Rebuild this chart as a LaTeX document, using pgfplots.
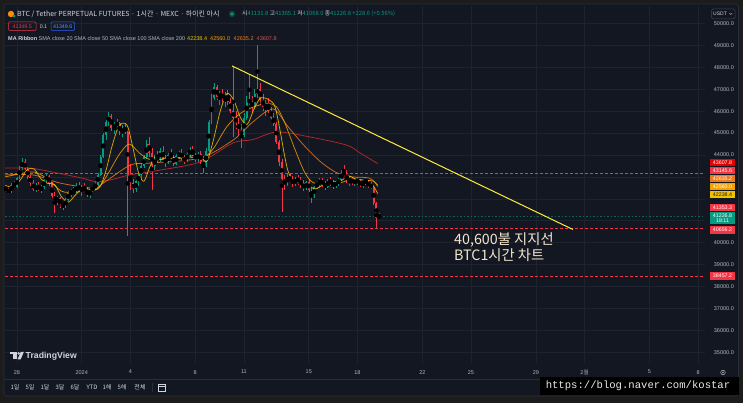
\documentclass[border=0pt]{standalone}
\usepackage{pgfplots}
\pgfplotsset{compat=1.18}
\usepackage{pgfplotstable}
\usepackage{fontspec}
\setmainfont{Liberation Sans}
\newfontfamily\kr{Noto Sans CJK KR}
\newfontfamily\mono{Liberation Mono}
\newcommand\fs[1]{\fontsize{#1}{#1}\selectfont}
\definecolor{bg}{HTML}{131722}
\definecolor{outer}{HTML}{1C1C1C}
\definecolor{border}{HTML}{2A2E39}
\definecolor{boxb}{HTML}{434651}
\definecolor{gridc}{HTML}{1F2330}
\definecolor{upc}{HTML}{089981}
\definecolor{dnc}{HTML}{F23645}
\definecolor{txt}{HTML}{D1D4DC}
\definecolor{axt}{HTML}{B2B5BE}
\definecolor{maA}{HTML}{F2C200}
\definecolor{maB}{HTML}{F5A000}
\definecolor{maC}{HTML}{EE7A1E}
\definecolor{maD}{HTML}{C62828}
\definecolor{trend}{HTML}{FFEB3B}
\definecolor{annot}{HTML}{F2E6CC}
\definecolor{blu}{HTML}{2962FF}

\pgfplotstableread{
h o hi lo c
-112 42500 42650 42300 42400
-108 42400 42500 42200 42300
-104 42300 42700 42250 42650
-100 42650 42800 42500 42550
-96 42550 43000 42500 42950
-92 42950 43500 42900 43400
-88 43400 43850 43300 43700
-84 43700 43800 43300 43350
-80 43350 43450 42900 43000
-76 43000 43100 42600 42700
-72 42700 42850 42350 42450
-68 42450 42700 42300 42600
-64 42600 42750 42350 42400
-60 42400 42650 42250 42550
-56 42550 42900 42450 42850
-52 42850 43150 42750 43050
-48 43050 43100 42600 42700
-44 42700 42750 42000 42150
-40 42150 42300 41350 41900
-36 41900 42150 41700 42050
-32 42050 42100 41600 41750
-28 41750 41850 41500 41650
-24 41650 42050 41600 41950
-20 41950 42350 41900 42250
-16 42250 42450 42100 42350
-12 42350 42550 42200 42300
-8 42300 42700 42250 42600
-4 42600 42750 42300 42400
0 42400 42650 42150 42500
4 42500 42700 42300 42350
8 42350 42550 42100 42200
12 42200 42450 42050 42400
16 42400 42600 42300 42550
20 42550 42750 42400 42650
24 42650 43200 42600 43100
28 43100 44000 43050 43900
32 43900 45000 43850 44900
36 44900 45600 44700 45500
40 45500 45950 45300 45800
44 45800 45850 45100 45250
48 45250 45500 44950 45350
52 45350 45650 45200 45450
56 45450 45500 44900 45000
60 45000 45350 44800 45250
64 45250 45400 44950 45050
68 45050 45100 40300 43000
72 43000 43600 42400 42700
76 42700 42900 42250 42450
80 42450 42900 42300 42800
84 42800 43200 42600 43100
88 43100 43600 42900 43500
92 43500 44000 43400 43900
96 43900 44700 43800 44500
100 44500 44800 43900 44100
104 44100 44300 42400 43500
108 43500 44000 43300 43900
112 43900 44200 43650 43800
116 43800 44300 43700 44200
120 44200 44400 43700 43800
124 43800 44000 43450 43650
128 43650 44100 43600 44000
132 44000 44250 43800 43900
136 43900 44000 43500 43600
140 43600 44050 43550 43950
144 43950 44200 43800 44100
148 44100 44250 43750 43850
152 43850 44000 43600 43750
156 43750 44150 43700 44050
160 44050 44350 43900 44200
164 44200 44400 43950 44000
168 44000 44100 43700 43800
172 43800 44150 43700 44050
176 44050 44200 43600 43700
180 43700 43800 43200 43500
184 43500 44300 43450 44200
188 44200 45600 44150 45500
192 45500 46800 45400 46600
196 46600 47300 46500 47100
200 47100 47200 46500 46650
204 46650 46900 46300 46800
208 46800 47000 46400 46550
212 46550 46850 46200 46700
216 46700 46950 46300 46400
220 46400 46600 45900 46000
224 46000 48050 44800 45700
228 45700 46000 45200 45450
232 45450 45700 44900 45150
236 45150 45400 44300 44900
240 44900 45900 44800 45700
244 45700 46700 45600 46500
248 46500 47650 46300 46400
252 46400 46700 45900 46200
256 46200 47000 46100 46800
260 46800 49000 46600 47000
264 47000 47300 46300 46500
268 46500 46800 46000 46200
272 46200 46500 45800 46300
276 46300 46600 45900 46000
280 46000 46200 45600 45700
284 45700 45900 45300 45400
288 45400 45500 44500 44600
292 44600 44700 43500 43700
296 43700 43800 41400 42900
300 42900 43100 42400 42700
304 42700 43200 42600 43000
308 43000 43150 42700 42850
312 42850 43050 42550 42700
316 42700 43000 42600 42900
320 42900 43100 42650 42800
324 42800 43000 42500 42650
328 42650 42850 42350 42500
332 42500 42800 42400 42750
336 42750 42900 42300 42400
340 42400 42500 41800 42100
344 42100 42600 42050 42550
348 42550 42800 42450 42700
352 42700 42950 42500 42850
356 42850 42950 42550 42650
360 42650 42800 42400 42550
364 42550 42900 42500 42800
368 42800 43000 42600 42700
372 42700 42850 42450 42600
376 42600 42850 42500 42750
380 42750 42950 42600 42850
384 42850 43300 42800 43200
388 43200 43550 43000 43100
392 43100 43300 42700 42800
396 42800 43000 42600 42900
400 42900 43000 42650 42700
404 42700 42950 42600 42850
408 42850 43000 42650 42750
412 42750 42900 42550 42650
416 42650 42850 42500 42800
420 42800 43000 42650 42750
424 42750 42850 42500 42600
428 42600 42750 42450 42550
432 42550 42600 41700 41800
436 41800 41850 40656.2 41131.8
440 41131.8 41365.1 41068.0 41226.8
}\candles

\begin{document}
\begin{tikzpicture}[x=1pt,y=1pt]
\useasboundingbox (0,0) rectangle (743,403);
\fill[outer] (0,0) rectangle (743,403);
\fill[bg, draw=border, line width=0.6pt, rounded corners=3pt] (4,7) rectangle (738.5,399);
\begin{axis}[
  at={(5pt,40pt)}, anchor=south west, scale only axis,
  width=700pt, height=357pt,
  xmin=-113.5, xmax=922.3, ymin=34514, ymax=50794,
  scaled y ticks=false, scaled x ticks=false,
  axis line style={draw=none}, tick style={draw=none}, major tick length=0pt,
  xtick={-96,0,72,168,240,336,408,504,576,672,744,840,912},
  xticklabels={28,2024,4,8,11,15,18,22,25,29,{\kr 2월},5,8},
  ytick={35000,36000,37000,38000,39000,40000,41000,42000,43000,44000,45000,46000,47000,48000,49000,50000},
  yticklabels={35000.0,36000.0,37000.0,38000.0,39000.0,40000.0,{},{},{},44000.0,45000.0,46000.0,47000.0,48000.0,49000.0,50000.0},
  yticklabel pos=right,
  grid=major, grid style={gridc, line width=0.6pt},
  xticklabel style={font=\fs{5.5}, text=axt, inner sep=0pt, anchor=north, yshift=-7pt},
  yticklabel style={font=\fs{5.5}, text=axt, inner sep=0pt, anchor=east, xshift=29pt},
]
% horizontal levels
\addplot[dnc, line width=0.6pt, dash pattern=on 2.5pt off 2.5pt] coordinates {(-113.5,43145.6) (922.3,43145.6)};
\addplot[dnc, line width=0.6pt, dash pattern=on 2.5pt off 2.5pt] coordinates {(-113.5,40656.2) (922.3,40656.2)};
\addplot[dnc, line width=0.6pt, dash pattern=on 2.5pt off 2.5pt] coordinates {(-113.5,38457.2) (922.3,38457.2)};
\addplot[upc!60!bg, line width=0.5pt, dash pattern=on 1.5pt off 2pt] coordinates {(-113.5,41226.8) (922.3,41226.8)};
% candles: wicks and bodies
\addplot[only marks, mark=none, restrict expr to domain={\thisrow{c}-\thisrow{o}}{0:100000},
  error bars/.cd, y dir=both, y explicit, error mark=none, error bar style={upc, line width=0.5pt}]
  table[x=h, y expr={(\thisrow{hi}+\thisrow{lo})/2}, y error expr={(\thisrow{hi}-\thisrow{lo})/2}] {\candles};
\addplot[only marks, mark=none, restrict expr to domain={\thisrow{c}-\thisrow{o}}{0:100000},
  error bars/.cd, y dir=both, y explicit, error mark=none, error bar style={upc, line width=1.9pt}]
  table[x=h, y expr={(\thisrow{o}+\thisrow{c})/2}, y error expr={abs(\thisrow{c}-\thisrow{o})/2}] {\candles};
\addplot[only marks, mark=none, restrict expr to domain={\thisrow{c}-\thisrow{o}}{-100000:-0.001},
  error bars/.cd, y dir=both, y explicit, error mark=none, error bar style={dnc, line width=0.5pt}]
  table[x=h, y expr={(\thisrow{hi}+\thisrow{lo})/2}, y error expr={(\thisrow{hi}-\thisrow{lo})/2}] {\candles};
\addplot[only marks, mark=none, restrict expr to domain={\thisrow{c}-\thisrow{o}}{-100000:-0.001},
  error bars/.cd, y dir=both, y explicit, error mark=none, error bar style={dnc, line width=1.9pt}]
  table[x=h, y expr={(\thisrow{o}+\thisrow{c})/2}, y error expr={abs(\thisrow{c}-\thisrow{o})/2}] {\candles};
% moving averages
\addplot[maD, line width=0.75pt, smooth, opacity=0.9] coordinates {(-113.5,43400) (-76,43400) (-40,43200) (0,42950) (22,42780) (45,42880) (71,43090) (110,43280) (175,43680) (224,44550) (253,44700) (289,45050) (338,44820) (392,44450) (412,44090) (438,43608)};
\addplot[maC, line width=0.75pt, smooth, opacity=0.85] coordinates {(-113.5,43090) (-72,43090) (-32,42720) (17,42490) (32,42720) (72,43540) (101,43630) (175,43860) (224,44680) (253,45500) (283,46100) (305,45300) (330,44400) (355,43650) (378,43180) (400,43000) (425,42950) (438,42635)};
\addplot[maB, line width=0.75pt, smooth, opacity=0.85] coordinates {(-113.5,43000) (-90,43150) (-70,43220) (-50,42900) (-30,42350) (-10,42300) (10,42400) (25,42500) (40,43200) (55,44000) (70,44500) (85,44100) (100,43800) (120,43800) (150,43900) (180,43900) (195,44300) (215,45300) (235,45900) (255,46200) (275,46350) (288,46200) (300,45500) (315,44300) (330,43200) (342,42750) (360,42650) (385,42750) (400,42900) (420,42850) (432,42800) (438,42560)};
\addplot[maA, line width=0.75pt, smooth, opacity=0.85] coordinates {(-113.5,42600) (-100,42550) (-90,42900) (-80,43350) (-70,43350) (-60,42900) (-50,42700) (-40,42650) (-30,42100) (-20,41850) (-10,42150) (0,42450) (10,42450) (20,42400) (28,42600) (36,43300) (44,44300) (52,45100) (60,45450) (68,45300) (76,44300) (84,43200) (92,42800) (100,43400) (108,43900) (116,43800) (130,43900) (145,43850) (160,43950) (175,43950) (185,43700) (195,44700) (205,46000) (215,46800) (225,46500) (235,45700) (245,45400) (255,46100) (265,46600) (278,46500) (286,46200) (293,45200) (300,44000) (306,43200) (315,42800) (330,42700) (345,42450) (355,42600) (370,42750) (385,42850) (395,43050) (405,42900) (420,42750) (430,42650) (438,42238)};
% trend line
\addplot[trend, line width=1pt] coordinates {(222.5,48060) (727,40600)};
\end{axis}

% annotation
\node[anchor=west, text=annot, font=\kr\fs{14.3}, inner sep=0pt] at (454,163.5) {40,600불 지지선};
\node[anchor=west, text=annot, font=\kr\fs{14.3}, inner sep=0pt] at (454,147.5) {BTC1시간 차트};

% right price labels
\tikzset{pl/.style={minimum width=25pt, minimum height=7.6pt, inner sep=0pt, font=\fs{5.3}, text=white}}
\node[pl, fill=red!90!black] at (722.5,240.5) {43607.8};
\node[pl, fill=dnc] at (722.5,232.5) {43145.6};
\node[pl, fill=maC] at (722.5,224.5) {42635.2};
\node[pl, fill=maB] at (722.5,216.5) {42560.0};
\node[pl, fill=maA, text=bg] at (722.5,208.5) {42238.4};
\node[pl, fill=dnc] at (722.5,195.5) {41353.3};
\node[pl, fill=upc, minimum height=12pt, align=center, font=\fs{5.3}\linespread{0.9}] at (722.5,185) {41226.8\\18:11};
\node[pl, fill=dnc] at (722.5,173) {40656.2};
\node[pl, fill=dnc] at (722.5,127) {38457.2};

% header row 1
\fill[orange!90!yellow] (11,389) circle (3.2);
\fill[upc] (14,387) circle (1.6);
\node[anchor=west, text=txt, font=\kr\fs{7}, inner sep=0pt] at (17,389) {BTC / Tether PERPETUAL FUTURES · 1시간 · MEXC · 하이킨 아시};
\fill[upc!35!bg] (232,389) circle (3.2);
\fill[upc] (232,389) circle (1.7);
\node[anchor=west, font=\kr\fs{5.8}, inner sep=0pt] at (242,389) {\textcolor{txt}{시}\textcolor{upc}{41131.8} \textcolor{txt}{고}\textcolor{upc}{41365.1} \textcolor{txt}{저}\textcolor{upc}{41068.0} \textcolor{txt}{종}\textcolor{upc}{41226.8} \textcolor{upc}{+228.6 (+0.56\%)}};
% header row 2
\draw[dnc, line width=0.5pt, rounded corners=1pt] (8.5,372.5) rectangle (36,381);
\node[text=dnc, font=\fs{5.3}, inner sep=0pt] at (22.2,376.7) {41349.5};
\node[text=txt, font=\fs{5.3}, inner sep=0pt] at (43.5,376.7) {0.1};
\draw[blu, line width=0.5pt, rounded corners=1pt] (51,372.5) rectangle (74.5,381);
\node[text=blu!70!white, font=\fs{5.3}, inner sep=0pt] at (62.7,376.7) {41349.6};
% header row 3
\node[anchor=west, text=txt, font=\fs{5.5}, inner sep=0pt] at (8,364) {\textbf{MA Ribbon} \textcolor{axt}{SMA close 20 SMA close 50 SMA close 100 SMA close 200}};
\node[anchor=west, text=maA, font=\fs{5.5}, inner sep=0pt] at (187,364) {42238.4};
\node[anchor=west, text=maB, font=\fs{5.5}, inner sep=0pt] at (210,364) {42560.0};
\node[anchor=west, text=maC, font=\fs{5.5}, inner sep=0pt] at (233.5,364) {42635.2};
\node[anchor=west, text=maD!80!white, font=\fs{5.5}, inner sep=0pt] at (256.5,364) {43607.8};
% USDT box
\draw[boxb, line width=0.5pt, rounded corners=1.5pt] (711.5,384) rectangle (735,394);
\node[text=txt, font=\fs{5}, inner sep=0pt] at (720,389) {USDT};
\draw[txt, line width=0.4pt] (729.5,389.8) -- (730.8,388.5) -- (732.1,389.8);

% TradingView logo
\fill[txt] (10,48.5) rectangle (16.5,51);
\fill[txt] (13.2,43.5) rectangle (16.5,51);
\fill[txt] (18.6,49.6) circle (1.3);
\fill[txt] (17.5,43.5) -- (20.6,43.5) -- (23.8,51) -- (20.7,51) -- cycle;
\node[anchor=west, text=txt, font=\bfseries\fs{8.7}, inner sep=0pt] at (25.5,47) {TradingView};

% separators
\draw[border, line width=0.6pt] (4,24) -- (738.5,24);
\draw[border, line width=0.6pt] (152,11) -- (152,20);
% toolbar
\foreach \xx/\lab in {15/1일,30/5일,45/1달,60/3달,75/6달,92/YTD,107/1해,122/5해,140/전체}{
  \node[text=txt, font=\kr\fs{6}, inner sep=0pt] at (\xx,15.5) {\lab};
}
\draw[txt, line width=0.5pt] (158.5,12) rectangle (165.5,19);
\draw[txt, line width=0.5pt] (158.5,17) -- (165.5,17);
\draw[axt, line width=0.5pt] (723,30.5) circle (2.3);
\fill[axt] (723,30.5) circle (0.8);

% watermark
\fill[black] (540,8) rectangle (739,26);
\node[text=white!92!black, font=\mono\fs{10.6}, inner sep=0pt] at (638,17) {https://blog.naver.com/kostar};
\end{tikzpicture}
\end{document}
